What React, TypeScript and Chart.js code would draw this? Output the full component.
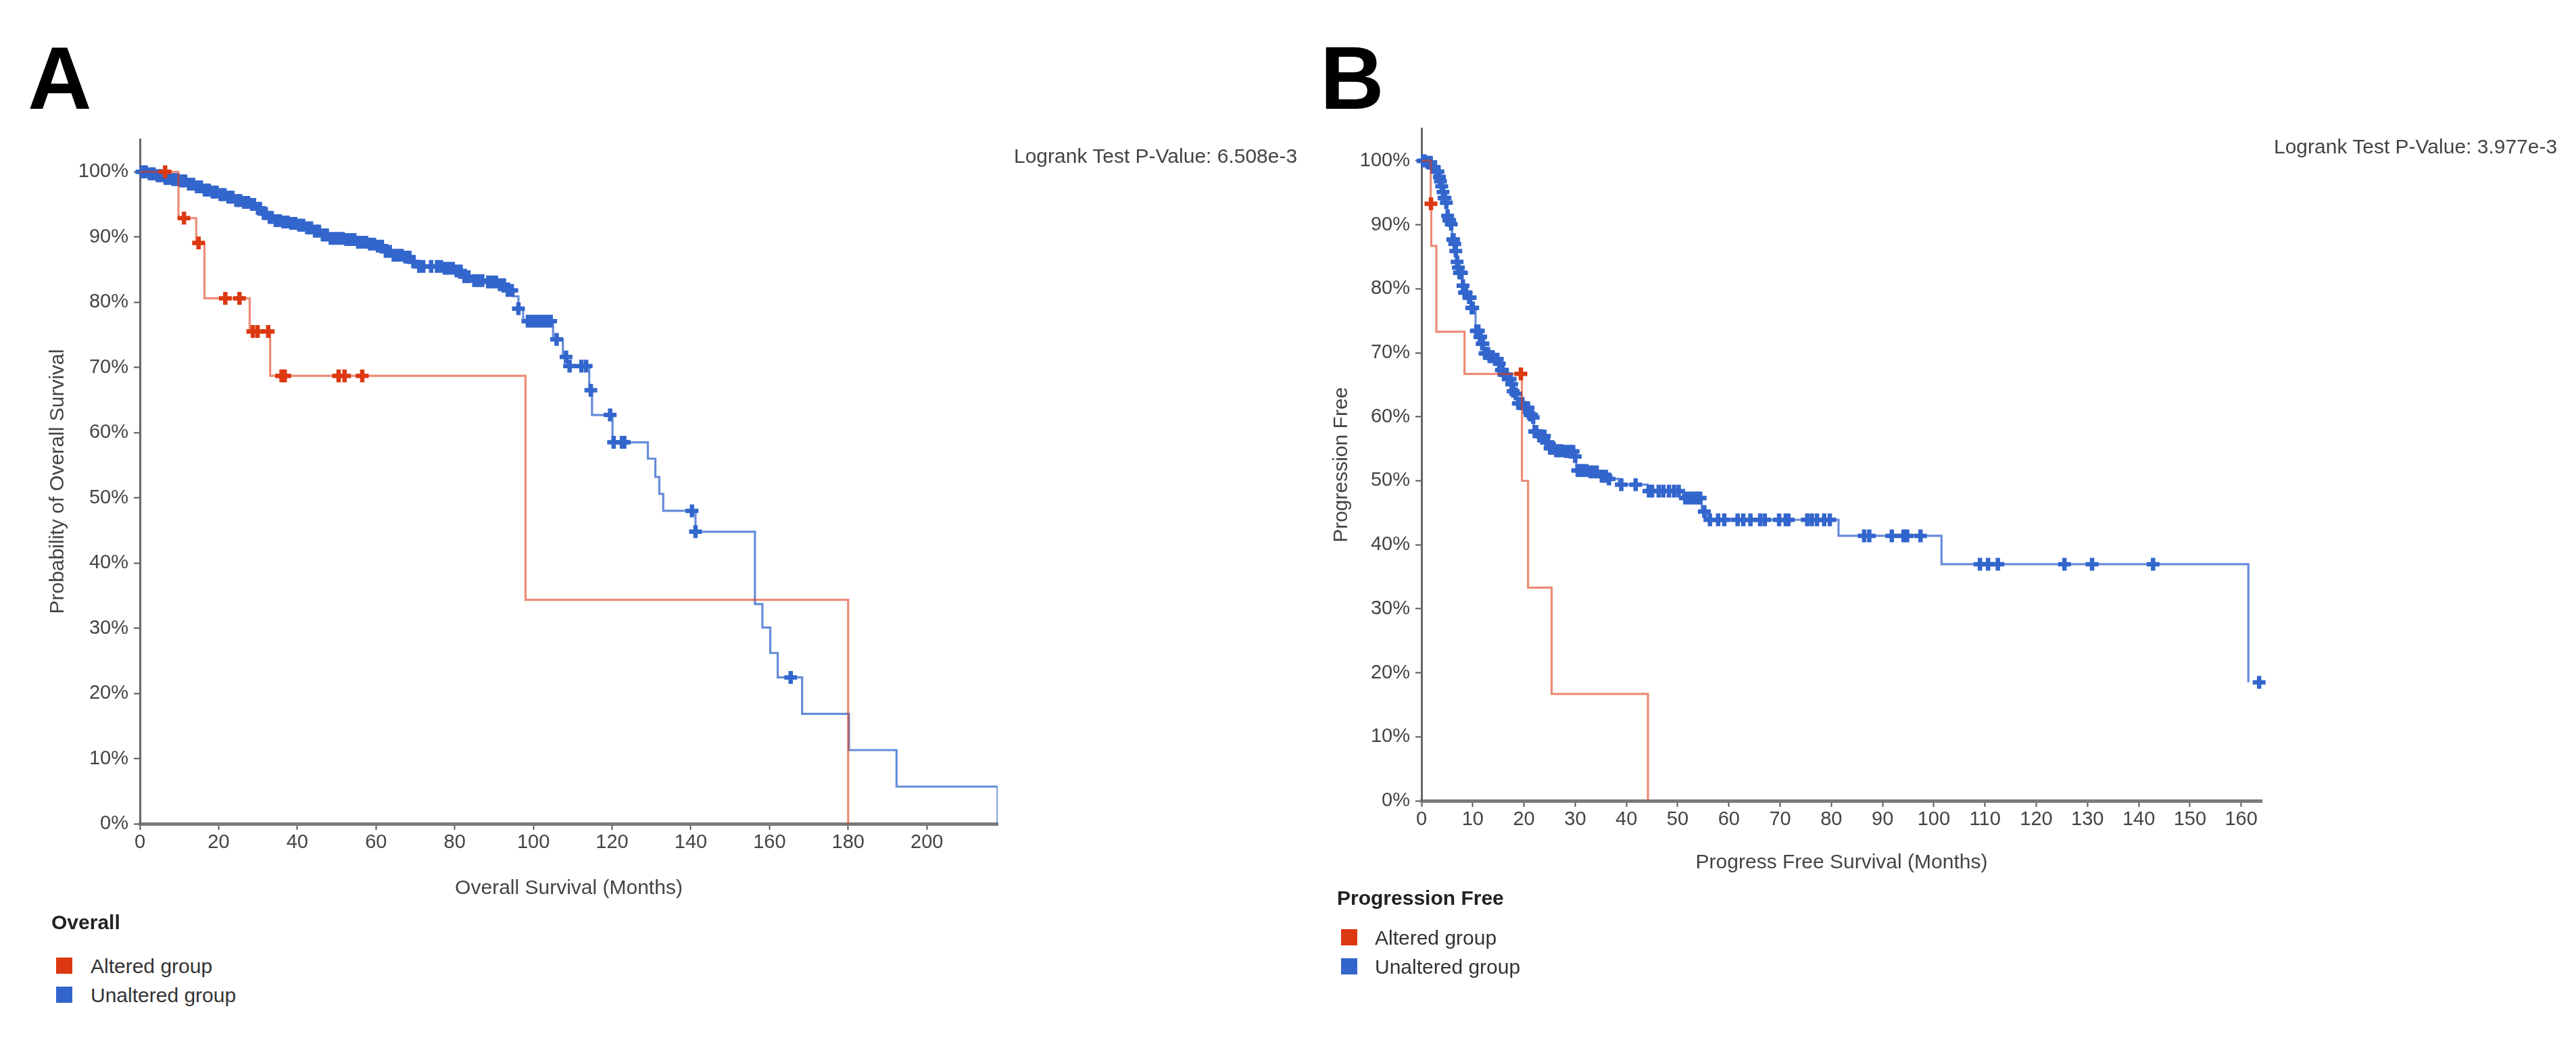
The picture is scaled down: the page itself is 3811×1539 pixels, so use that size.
import React, { useEffect, useRef } from "react";
import { Chart, registerables } from "chart.js";

Chart.register(...registerables);

type Pair = [number, number];

// ---------------- Panel A : Overall survival ----------------
const osXTicks = [0, 20, 40, 60, 80, 100, 120, 140, 160, 180, 200];
const yTicks = [0, 10, 20, 30, 40, 50, 60, 70, 80, 90, 100];

const osAlteredSteps: Pair[] = [
  [0, 100], [9.8, 92.9], [14.3, 89.1], [16.4, 80.6], [27.9, 75.5], [33.1, 68.7], [98.0, 34.35], [180.0, 0],
];
const osAlteredCensored: Pair[] = [
  [6.4, 100], [11.2, 92.9], [14.9, 89.1], [21.7, 80.6], [25.3, 80.6], [28.7, 75.5], [29.9, 75.5], [32.6, 75.5],
  [36.0, 68.7], [36.8, 68.7], [50.5, 68.7], [52.0, 68.7], [56.5, 68.7],
];
const osUnalteredSteps: Pair[] = [
  [0, 100], [2, 99.7], [4, 99.4], [6, 99.0], [8, 98.8], [10, 98.6], [12, 98.1], [14, 97.7], [16, 97.2], [18, 96.9],
  [20, 96.5], [22, 96.1], [24, 95.6], [26, 95.3], [28, 95.0], [29.5, 94.4], [31, 93.6], [32.5, 93.0], [34, 92.5],
  [36, 92.3], [38, 92.1], [40, 91.8], [42, 91.4], [44, 90.9], [46, 90.3], [48, 89.8], [52, 89.6], [55, 89.2],
  [58, 88.9], [60, 88.6], [62, 87.8], [64, 87.2], [67, 86.9], [69, 86.2], [70.5, 85.5], [77, 85.2], [80, 84.8],
  [82, 83.9], [84, 83.3], [88, 83.1], [91, 82.7], [93, 81.8], [95, 80.9], [96.2, 79.0], [97.4, 77.1], [105, 74.3],
  [107.5, 71.6], [108.6, 70.2], [114.2, 66.5], [114.9, 62.7], [120.1, 58.5], [129.1, 56.0], [131, 53.2],
  [132, 50.6], [133, 48.0], [141.2, 44.8], [156.3, 33.7], [158.2, 30.1], [160.2, 26.2], [162.1, 22.45],
  [168.3, 16.85], [180.2, 11.3], [192.3, 5.7], [218, 0],
];
const osUnalteredCensored: Pair[] = [
  [0.5, 100], [1, 100], [1.5, 100], [2.5, 99.7], [3, 99.7], [3.5, 99.7], [4.5, 99.4], [5, 99.4], [5.5, 99.4],
  [6.5, 99.0], [7, 99.0], [7.5, 99.0], [8.5, 98.8], [9, 98.8], [9.5, 98.8], [10.5, 98.6], [11, 98.6], [11.5, 98.6],
  [12.5, 98.1], [13, 98.1], [13.5, 98.1], [14.5, 97.7], [15, 97.7], [15.5, 97.7], [16.5, 97.2], [17, 97.2],
  [17.5, 97.2], [18.5, 96.9], [19, 96.9], [19.5, 96.9], [20.5, 96.5], [21, 96.5], [21.5, 96.5], [22.5, 96.1],
  [23, 96.1], [23.5, 96.1], [24.5, 95.6], [25, 95.6], [25.5, 95.6], [26.5, 95.3], [27, 95.3], [27.5, 95.3],
  [28.5, 95.0], [29, 95.0], [30, 94.4], [30.5, 94.4], [31.5, 93.6], [32, 93.6], [33, 93.0], [33.5, 93.0],
  [34.5, 92.5], [35, 92.5], [35.5, 92.5], [36.5, 92.3], [37, 92.3], [37.5, 92.3], [38.5, 92.1], [39, 92.1],
  [39.5, 92.1], [40.5, 91.8], [41, 91.8], [41.5, 91.8], [42.5, 91.4], [43, 91.4], [43.5, 91.4], [44.5, 90.9],
  [45, 90.9], [45.5, 90.9], [46.5, 90.3], [47, 90.3], [47.5, 90.3], [48.5, 89.8], [49.5, 89.8], [50.5, 89.8],
  [51.5, 89.8], [52.5, 89.6], [53.5, 89.6], [54.5, 89.6], [55.5, 89.2], [56.5, 89.2], [57.5, 89.2], [58.5, 88.9],
  [59.5, 88.9], [60.5, 88.6], [61.5, 88.6], [62.5, 87.8], [63.5, 87.8], [64.5, 87.2], [65.5, 87.2], [66.5, 87.2],
  [67.5, 86.9], [68.5, 86.9], [69.5, 86.2], [71, 85.5], [72, 85.5], [74, 85.5], [75.5, 85.5], [76.5, 85.5],
  [77.5, 85.2], [78.5, 85.2], [79.5, 85.2], [80.5, 84.8], [81.5, 84.8], [82.5, 83.9], [83.5, 83.9], [85, 83.3],
  [86, 83.3], [87, 83.3], [88.5, 83.1], [89.5, 83.1], [90.5, 83.1], [91.5, 82.7], [92.5, 82.7], [93.5, 81.8],
  [94.5, 81.8], [96.2, 79.0], [98.6, 77.1], [99.5, 77.1], [100.5, 77.1], [101.5, 77.1], [102.5, 77.1],
  [103.5, 77.1], [104.4, 77.1], [105.9, 74.3], [108.3, 71.6], [109.2, 70.2], [112.2, 70.2], [113.4, 70.2],
  [114.6, 66.5], [119.5, 62.7], [120.4, 58.5], [122.5, 58.5], [123.1, 58.5], [140.3, 48.0], [141.2, 44.8],
  [165.4, 22.45],
];

// ---------------- Panel B : Progression free ----------------
const pfsXTicks = [0, 10, 20, 30, 40, 50, 60, 70, 80, 90, 100, 110, 120, 130, 140, 150, 160];

const pfsAlteredSteps: Pair[] = [
  [0, 100], [1.8, 93.3], [1.9, 86.7], [2.9, 73.3], [8.4, 66.7], [19.6, 50.0], [20.8, 33.3], [25.4, 16.7], [44.2, 0],
];
const pfsAlteredCensored: Pair[] = [[1.85, 93.3], [19.4, 66.7]];

const pfsUnalteredSteps: Pair[] = [
  [0, 100], [1.0, 99.75], [2.0, 99.0], [2.9, 98.3], [3.4, 97.5], [3.6, 96.8], [3.85, 96.0], [4.1, 95.1],
  [4.3, 94.2], [4.75, 93.45], [5.0, 91.4], [5.25, 90.7], [5.7, 90.1], [5.95, 87.7], [6.4, 87.0], [6.6, 85.9],
  [6.85, 84.2], [7.1, 83.3], [7.3, 82.5], [8.0, 80.5], [8.25, 79.4], [9.15, 78.6], [9.65, 77.0], [10.55, 73.4],
  [11.25, 72.5], [11.7, 71.4], [12.2, 69.9], [13.1, 69.4], [14.3, 69.0], [15.0, 68.3], [15.4, 67.3], [15.9, 66.6],
  [16.8, 65.9], [17.5, 65.1], [17.75, 64.0], [18.2, 63.6], [18.7, 62.1], [20.0, 61.4], [21.0, 60.3], [21.7, 59.9],
  [21.9, 57.7], [22.8, 57.0], [24.2, 56.0], [24.9, 55.1], [26.1, 54.7], [27.9, 54.6], [29.8, 53.8], [30.2, 51.6],
  [32.6, 51.4], [34.9, 50.7], [36.3, 50.3], [38.5, 49.4], [44.1, 48.4], [51.0, 47.3], [54.7, 45.2], [55.7, 43.9],
  [81.4, 41.4], [101.5, 36.97], [161.4, 18.5],
];
const pfsUnalteredCensored: Pair[] = [
  [0.3, 100], [0.6, 100], [1.2, 99.75], [1.5, 99.75], [1.8, 99.75], [2.2, 99.0], [2.5, 99.0], [3.0, 98.3],
  [3.2, 98.3], [3.5, 97.5], [3.7, 96.8], [3.95, 96.0], [4.2, 95.1], [4.4, 94.2], [4.6, 94.2], [4.85, 93.45],
  [5.1, 91.4], [5.35, 90.7], [5.5, 90.7], [5.8, 90.1], [6.1, 87.7], [6.25, 87.7], [6.5, 87.0], [6.7, 85.9],
  [6.95, 84.2], [7.2, 83.3], [7.4, 82.5], [7.6, 82.5], [7.8, 82.5], [8.1, 80.5], [8.4, 79.4], [8.7, 79.4],
  [9.3, 78.6], [9.5, 78.6], [9.8, 77.0], [10.0, 77.0], [10.7, 73.4], [10.9, 73.4], [11.1, 73.4], [11.4, 72.5],
  [11.55, 72.5], [11.85, 71.4], [12.0, 71.4], [12.4, 69.9], [12.7, 69.9], [13.0, 69.9], [13.3, 69.4], [13.6, 69.4],
  [13.9, 69.4], [14.5, 69.0], [14.8, 69.0], [15.2, 68.3], [15.6, 67.3], [15.8, 67.3], [16.1, 66.6], [16.4, 66.6],
  [16.6, 66.6], [17.0, 65.9], [17.3, 65.9], [17.6, 65.1], [17.9, 64.0], [18.4, 63.6], [18.9, 62.1], [19.2, 62.1],
  [19.4, 62.1], [19.7, 62.1], [20.2, 61.4], [20.5, 61.4], [20.8, 61.4], [21.2, 60.3], [21.5, 60.3], [21.8, 59.9],
  [22.1, 57.7], [22.4, 57.7], [23.0, 57.0], [23.3, 57.0], [23.6, 57.0], [24.0, 57.0], [24.4, 56.0], [24.7, 56.0],
  [25.1, 55.1], [25.4, 55.1], [25.8, 55.1], [26.3, 54.7], [26.6, 54.7], [27.0, 54.7], [27.4, 54.7], [28.1, 54.6],
  [28.5, 54.6], [28.9, 54.6], [29.3, 54.6], [29.6, 54.6], [30.0, 53.8], [30.5, 51.6], [31.0, 51.6], [31.5, 51.6],
  [32.2, 51.6], [33.0, 51.4], [33.5, 51.4], [34.2, 51.4], [35.2, 50.7], [35.6, 50.7], [36.0, 50.7], [36.6, 50.3],
  [39.0, 49.4], [41.8, 49.4], [44.4, 48.4], [45.0, 48.4], [46.3, 48.4], [47.2, 48.4], [48.3, 48.4], [49.3, 48.4],
  [50.2, 48.4], [51.5, 47.3], [52.2, 47.3], [52.8, 47.3], [53.4, 47.3], [54.0, 47.3], [54.4, 47.3], [55.2, 45.2],
  [56.3, 43.9], [57.9, 43.9], [59.1, 43.9], [61.7, 43.9], [62.8, 43.9], [64.2, 43.9], [66.1, 43.9], [67.0, 43.9],
  [69.8, 43.9], [71.1, 43.9], [71.6, 43.9], [75.3, 43.9], [76.2, 43.9], [77.2, 43.9], [78.6, 43.9], [79.7, 43.9],
  [86.4, 41.4], [87.4, 41.4], [91.8, 41.4], [94.1, 41.4], [94.8, 41.4], [97.4, 41.4], [109.0, 36.97],
  [110.6, 36.97], [112.5, 36.97], [125.5, 36.97], [130.9, 36.97], [142.8, 36.97], [163.5, 18.5],
];

const groupLabels = ["Altered group", "Unaltered group"];

// ---------------- styling ----------------
const FONT = '"Liberation Sans", Arial, Helvetica, sans-serif';
const RED = "#dc3912";
const RED_LINE = "rgba(220,57,18,0.58)";
const BLUE = "#3366cc";
const BLUE_LINE = "rgba(51,102,204,0.75)";
const TEXT = "#444444";

Chart.defaults.font.family = FONT;

const toXY = (pairs: Pair[]) => pairs.map(([x, y]) => ({ x, y }));

interface PanelSpec {
  id: string;
  left: number;
  top: number;
  w: number;
  h: number;
  padTop: number;
  padRight: number;
  yAxisWidth: number;
  xAxisHeight: number;
  xTitlePad: number;
  yTitlePad: number;
  xMax: number;
  xTicks: number[];
  xTitle: string;
  yTitle: string;
  altSteps: Pair[];
  altCens: Pair[];
  unaltSteps: Pair[];
  unaltCens: Pair[];
}

const panels: PanelSpec[] = [
  {
    id: "A",
    left: 0,
    top: 150,
    w: 1500,
    h: 1200,
    padTop: 56,
    padRight: 24,
    yAxisWidth: 207,
    xAxisHeight: 131,
    xTitlePad: 17,
    yTitlePad: 68,
    xMax: 218,
    xTicks: osXTicks,
    xTitle: "Overall Survival (Months)",
    yTitle: "Probability of Overall Survival",
    altSteps: osAlteredSteps,
    altCens: osAlteredCensored,
    unaltSteps: osUnalteredSteps,
    unaltCens: osUnalteredCensored,
  },
  {
    id: "B",
    left: 1880,
    top: 150,
    w: 1490,
    h: 1200,
    padTop: 40.6,
    padRight: 24,
    yAxisWidth: 223,
    xAxisHeight: 165,
    xTitlePad: 55,
    yTitlePad: 87,
    xMax: 164,
    xTicks: pfsXTicks,
    xTitle: "Progress Free Survival (Months)",
    yTitle: "Progression Free",
    altSteps: pfsAlteredSteps,
    altCens: pfsAlteredCensored,
    unaltSteps: pfsUnalteredSteps,
    unaltCens: pfsUnalteredCensored,
  },
];

function censorDataset(pts: Pair[], color: string) {
  return {
    data: toXY(pts),
    showLine: false,
    pointStyle: "cross",
    pointRadius: 9.5,
    pointHoverRadius: 9.5,
    pointBorderWidth: 6.5,
    pointBorderColor: color,
    pointBackgroundColor: color,
    borderColor: color,
    clip: false,
  };
}

function stepDataset(pts: Pair[], color: string) {
  return {
    data: toXY(pts),
    stepped: "before",
    borderColor: color,
    borderWidth: 3.2,
    pointRadius: 0,
    pointHoverRadius: 0,
    fill: false,
    tension: 0,
  };
}

function buildConfig(s: PanelSpec): any {
  return {
    type: "line",
    data: {
      datasets: [
        censorDataset(s.altCens, RED),
        stepDataset(s.altSteps, RED_LINE),
        censorDataset(s.unaltCens, BLUE),
        stepDataset(s.unaltSteps, BLUE_LINE),
      ],
    },
    options: {
      animation: false,
      responsive: false,
      devicePixelRatio: 1,
      events: [],
      layout: { padding: { left: 0, right: s.padRight, top: s.padTop, bottom: 0 } },
      plugins: {
        legend: { display: false },
        tooltip: { enabled: false },
        title: { display: false },
      },
      scales: {
        x: {
          type: "linear",
          min: 0,
          max: s.xMax,
          afterBuildTicks: (scale: any) => {
            scale.ticks = s.xTicks.map((v) => ({ value: v }));
          },
          afterFit: (scale: any) => {
            scale.height = s.xAxisHeight;
          },
          ticks: { font: { size: 29 }, color: TEXT, padding: 2, maxRotation: 0, autoSkip: false },
          grid: {
            display: true,
            drawOnChartArea: false,
            drawTicks: true,
            tickLength: 9,
            tickWidth: 2,
            tickColor: "#555",
          },
          border: { display: true, color: "#7a7a7a", width: 5 },
          title: {
            display: true,
            text: s.xTitle,
            font: { size: 30 },
            color: TEXT,
            padding: { top: 0, bottom: s.xTitlePad },
          },
        },
        y: {
          type: "linear",
          min: 0,
          max: 105,
          afterBuildTicks: (scale: any) => {
            scale.ticks = yTicks.map((v) => ({ value: v }));
          },
          afterFit: (scale: any) => {
            scale.width = s.yAxisWidth;
          },
          ticks: {
            font: { size: 29 },
            color: TEXT,
            padding: 8,
            callback: (v: any) => v + "%",
          },
          grid: {
            display: true,
            drawOnChartArea: false,
            drawTicks: true,
            tickLength: 9,
            tickWidth: 2,
            tickColor: "#555",
          },
          border: { display: true, color: "#666", width: 3 },
          title: {
            display: true,
            text: s.yTitle,
            font: { size: 30 },
            color: TEXT,
            padding: { top: s.yTitlePad, bottom: 0 },
          },
        },
      },
    },
  };
}

function KMPanel({ spec }: { spec: PanelSpec }) {
  const ref = useRef<HTMLCanvasElement | null>(null);
  useEffect(() => {
    if (!ref.current) return;
    const chart = new Chart(ref.current, buildConfig(spec));
    return () => chart.destroy();
  }, [spec]);
  return (
    <canvas
      ref={ref}
      width={spec.w}
      height={spec.h}
      style={{ position: "absolute", left: spec.left, top: spec.top, width: spec.w, height: spec.h }}
    />
  );
}

const abs = (left: number, top: number, extra: React.CSSProperties = {}): React.CSSProperties => ({
  position: "absolute",
  left,
  top,
  lineHeight: 1,
  whiteSpace: "nowrap",
  fontFamily: FONT,
  ...extra,
});

function Legend({
  title,
  left,
  titleTop,
  squareLeft,
  textLeft,
  rowTops,
}: {
  title: string;
  left: number;
  titleTop: number;
  squareLeft: number;
  textLeft: number;
  rowTops: number[];
}) {
  const colors = [RED, BLUE];
  return (
    <>
      <div style={abs(left, titleTop, { fontSize: 30, fontWeight: 700, color: "#222" })}>{title}</div>
      {groupLabels.map((lab, i) => (
        <React.Fragment key={lab}>
          <div
            style={{
              position: "absolute",
              left: squareLeft,
              top: rowTops[i] + 2,
              width: 24,
              height: 24,
              background: colors[i],
            }}
          />
          <div style={abs(textLeft, rowTops[i], { fontSize: 30, color: "#333" })}>{lab}</div>
        </React.Fragment>
      ))}
    </>
  );
}

export default function App() {
  return (
    <div
      style={{
        position: "absolute",
        left: 0,
        top: 0,
        width: 3811,
        height: 1539,
        background: "#ffffff",
        overflow: "hidden",
        fontFamily: FONT,
      }}
    >
      {panels.map((p) => (
        <KMPanel key={p.id} spec={p} />
      ))}
      <div style={abs(41, 50, { fontSize: 131, fontWeight: 700, color: "#000" })}>A</div>
      <div style={abs(1953, 50, { fontSize: 131, fontWeight: 700, color: "#000" })}>B</div>
      <div style={abs(1500, 216, { fontSize: 30, color: TEXT })}>Logrank Test P-Value: 6.508e-3</div>
      <div style={abs(3364, 202, { fontSize: 30, color: TEXT })}>Logrank Test P-Value: 3.977e-3</div>
      <Legend title="Overall" left={76} titleTop={1350} squareLeft={83} textLeft={134} rowTops={[1415, 1458]} />
      <Legend
        title="Progression Free"
        left={1978}
        titleTop={1314}
        squareLeft={1984}
        textLeft={2034}
        rowTops={[1373, 1416]}
      />
    </div>
  );
}
